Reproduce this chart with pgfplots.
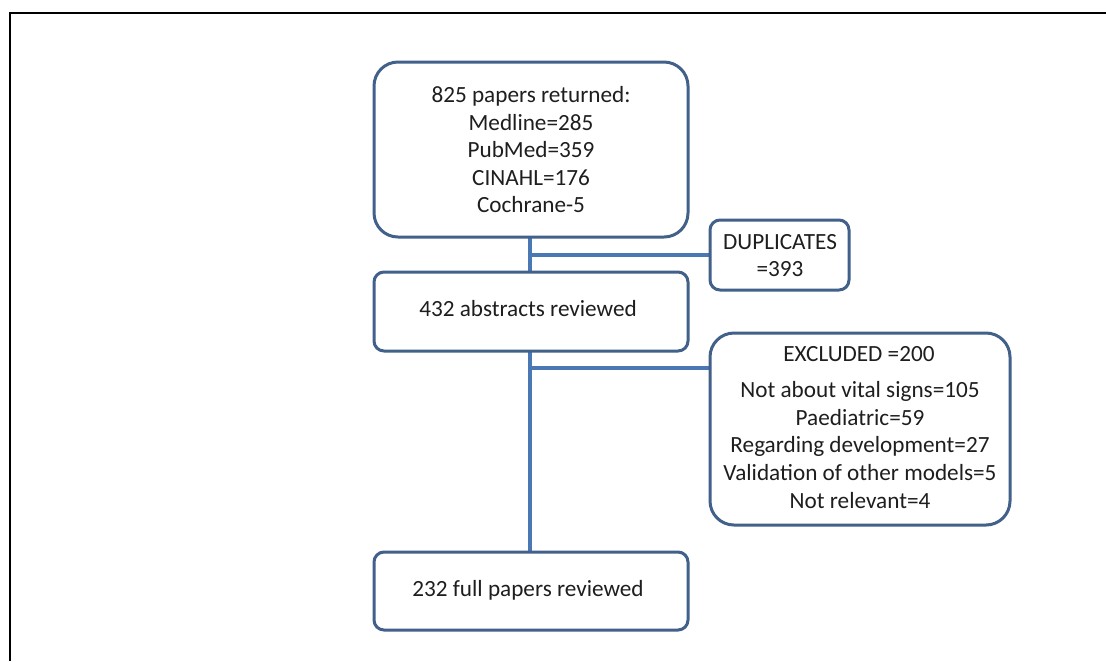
\documentclass[border=0pt]{standalone}
\usepackage{pgfplots}
\pgfplotsset{compat=1.18}
\usepackage{fontspec}
\setmainfont{Carlito}
\definecolor{boxline}{HTML}{41608A}
\definecolor{conn}{HTML}{4A78B4}
\definecolor{txt}{HTML}{1E1E1E}
\begin{document}
\begin{tikzpicture}
\useasboundingbox (0,0) rectangle (553pt,330.5pt);
\begin{axis}[at={(0,0)}, anchor=south west, width=553pt, height=330.5pt,
  scale only axis, hide axis, xmin=0, xmax=1106, ymin=0, ymax=661,
  y dir=reverse, clip=false]
% outer frame
\addplot[black, line width=1pt, mark=none] coordinates {(10,661) (10,13) (1106,13)};
% connectors
\addplot[draw=conn, line width=1.6pt, mark=none] coordinates {(530,237) (530,272)};
\addplot[draw=conn, line width=1.6pt, mark=none] coordinates {(530,255) (710,255)};
\addplot[draw=conn, line width=1.6pt, mark=none] coordinates {(530,351) (530,552)};
\addplot[draw=conn, line width=1.6pt, mark=none] coordinates {(530,368) (710,368)};
% boxes
\draw[boxline, line width=1.5pt, rounded corners=12pt, fill=white] (axis cs:374,62) rectangle (axis cs:688,237);
\draw[boxline, line width=1.5pt, rounded corners=5pt, fill=white] (axis cs:710,220) rectangle (axis cs:849,290);
\draw[boxline, line width=1.5pt, rounded corners=5pt, fill=white] (axis cs:374,272) rectangle (axis cs:688,351);
\draw[boxline, line width=1.5pt, rounded corners=12pt, fill=white] (axis cs:710,333) rectangle (axis cs:1010,525);
\draw[boxline, line width=1.5pt, rounded corners=5pt, fill=white] (axis cs:374,552) rectangle (axis cs:688,630);
% texts
\node[txt, align=center, font=\fontsize{11.6pt}{13.75pt}\selectfont] at (axis cs:531,150)
  {825 papers returned:\\Medline=285\\PubMed=359\\CINAHL=176\\Cochrane-5};
\node[txt, align=center, font=\fontsize{11.6pt}{13.5pt}\selectfont] at (axis cs:780,256)
  {DUPLICATES\\=393};
\node[txt, font=\fontsize{11.6pt}{13.75pt}\selectfont] at (axis cs:528,309) {432 abstracts reviewed};
\node[txt, font=\fontsize{11.6pt}{13.75pt}\selectfont] at (axis cs:859,354) {EXCLUDED =200};
\node[txt, align=center, font=\fontsize{11.6pt}{13.85pt}\selectfont] at (axis cs:860,445)
  {Not about vital signs=105\\Paediatric=59\\Regarding development=27\\Validation of other models=5\\Not relevant=4};
\node[txt, font=\fontsize{11.6pt}{13.75pt}\selectfont] at (axis cs:528,590) {232 full papers reviewed};
\end{axis}
\end{tikzpicture}
\end{document}
